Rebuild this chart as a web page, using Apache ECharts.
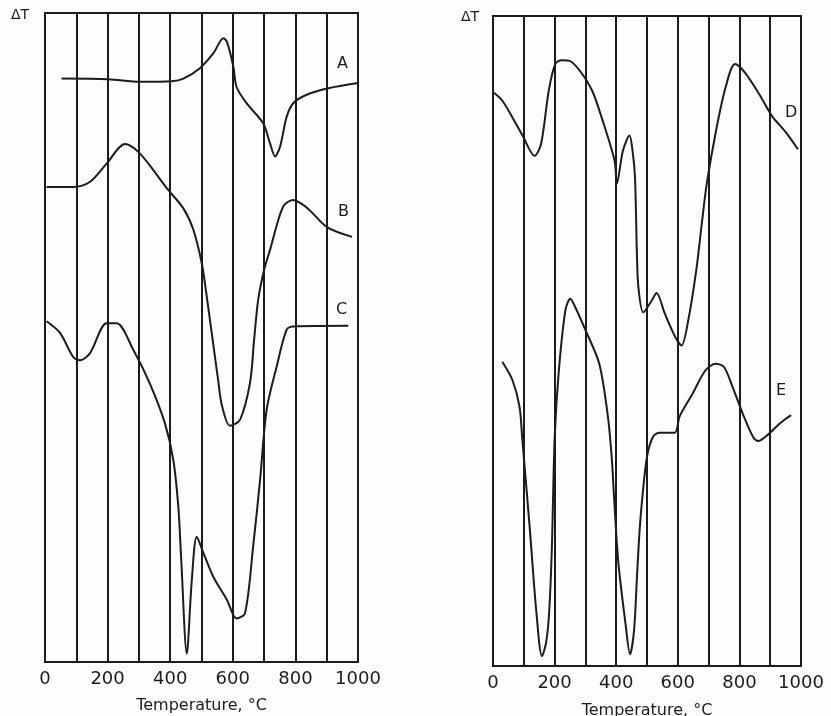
<!DOCTYPE html>
<html>
<head>
<meta charset="utf-8">
<title>DTA curves</title>
<script src="https://cdn.jsdelivr.net/npm/echarts@6/dist/echarts.min.js"></script>
<style>
  html, body { margin: 0; padding: 0; background: #fdfdfc; }
  #main { width: 831px; height: 716px; }
</style>
</head>
<body>
<div id="main"></div>
<script>
// 差热曲线 (temperature °C, ΔT arbitrary units 0-100)
var curveA = [[53,89.9],[202,89.8],[304,89.4],[405,89.5],[442,89.9],[495,91.5],[538,93.8],[570,96.1],[581,95.6],[602,91.7],[612,88.6],[644,86.1],[697,83.0],[719,79.9],[735,77.9],[751,79.4],[772,84.0],[793,86.1],[836,87.4],[905,88.4],[1000,89.2]];
var curveB = [[5,73.2],[90,73.2],[144,74.0],[197,76.8],[256,79.8],[298,78.6],[346,75.8],[389,73.0],[442,69.9],[474,66.6],[501,61.4],[514,57.3],[527,52.7],[540,48.1],[553,43.5],[565,39.6],[591,36.4],[623,37.3],[655,43.0],[668,49.6],[681,55.8],[700,60.4],[719,63.5],[760,70.1],[792,71.2],[837,70.0],[901,67.0],[981,65.5]];
var curveC = [[5,52.5],[48,50.7],[90,47.0],[112,46.5],[144,47.6],[197,52.2],[229,52.2],[282,48.1],[335,42.9],[383,36.8],[410,31.1],[426,23.9],[435,16],[453,1.3],[469,12.6],[485,19.3],[506,16.8],[538,13.1],[581,9.6],[612,6.7],[639,7.5],[665,17.8],[687,28.0],[708,38.8],[740,45.5],[772,51.2],[793,51.7],[969,51.8]];
var curveD = [[3,88.2],[30,87.0],[63,84.4],[96,81.6],[135,78.5],[156,80.3],[181,88.5],[202,92.6],[223,93.2],[249,93.1],[283,91.5],[322,88.5],[356,83.9],[395,77.7],[402,74.2],[422,79.3],[443,81.6],[453,79.3],[461,75.2],[467,63.9],[472,58.3],[488,54.4],[515,56.2],[531,57.4],[558,54.2],[592,50.6],[612,49.3],[634,53.2],[660,60.9],[679,68.5],[694,74.2],[724,82.3],[755,89.0],[786,92.6],[818,91.3],[864,88.0],[906,84.6],[951,82.1],[990,79.5]];
var curveE = [[30,46.8],[63,44.0],[86,39.9],[95,35.0],[119,21.4],[141,8.2],[159,1.5],[172,3.5],[182,8.0],[191,18.0],[200,34.8],[213,45.0],[235,54.7],[251,56.5],[267,55.2],[301,51.6],[345,46.5],[373,38.4],[386,31.7],[393,26.0],[407,15.9],[430,6.6],[445,1.8],[458,5.5],[467,13.3],[476,20.9],[485,26.0],[500,32.2],[520,35.3],[541,35.9],[590,35.9],[606,38.4],[648,41.9],[690,45.5],[723,46.5],[750,46.0],[778,42.9],[811,38.8],[845,35.2],[861,34.6],[893,35.6],[931,37.3],[968,38.6]];
var tempTicks = [0, 200, 400, 600, 800, 1000];

var ink = '#1c1c1c';
var fontName = 'DejaVu Sans';

function makeX(idx, gap) {
    return {
        type: 'value',
        gridIndex: idx,
        min: 0,
        max: 1000,
        interval: 100,
        name: 'Temperature, °C',
        nameLocation: 'middle',
        nameGap: gap,
        nameTextStyle: { color: ink, fontSize: 16, fontFamily: fontName },
        axisLine: { show: false },
        axisTick: { show: false },
        axisLabel: {
            color: ink,
            fontSize: 18,
            fontFamily: fontName,
            margin: 8,
            formatter: function (v) { return tempTicks.indexOf(v) >= 0 ? String(v) : ''; }
        },
        splitLine: { show: true, lineStyle: { color: ink, width: 2 } }
    };
}
function makeY(idx) {
    return {
        type: 'value', gridIndex: idx, min: 0, max: 100,
        axisLine: { show: false }, axisTick: { show: false },
        axisLabel: { show: false }, splitLine: { show: false }
    };
}
function line(data, idx) {
    return {
        type: 'line', xAxisIndex: idx, yAxisIndex: idx, data: data,
        smooth: 0.3, symbol: 'none',
        lineStyle: { color: ink, width: 2 }
    };
}
function txt(s, x, y, size) {
    return { type: 'text', left: x, top: y,
        style: { text: s, fill: ink, font: size + 'px "' + fontName + '"' } };
}

var chart = echarts.init(document.getElementById('main'));
chart.setOption({
    backgroundColor: '#fdfdfc',
    animation: false,
    grid: [
        { left: 45, top: 13, width: 313, height: 649, show: true, borderColor: ink, borderWidth: 2, outerBoundsMode: 'none' },
        { left: 493, top: 16, width: 308, height: 650, show: true, borderColor: ink, borderWidth: 2, outerBoundsMode: 'none' }
    ],
    xAxis: [makeX(0, 36), makeX(1, 37)],
    yAxis: [makeY(0), makeY(1)],
    series: [
        line(curveA, 0), line(curveB, 0), line(curveC, 0),
        line(curveD, 1), line(curveE, 1)
    ],
    graphic: [
        txt('ΔT', 11, 8, 14),
        txt('ΔT', 461, 10, 14),
        txt('A', 337, 56, 16),
        txt('B', 338, 204, 16),
        txt('C', 336, 302, 16),
        txt('D', 785, 105, 16),
        txt('E', 776, 383, 16)
    ]
});
</script>
</body>
</html>
